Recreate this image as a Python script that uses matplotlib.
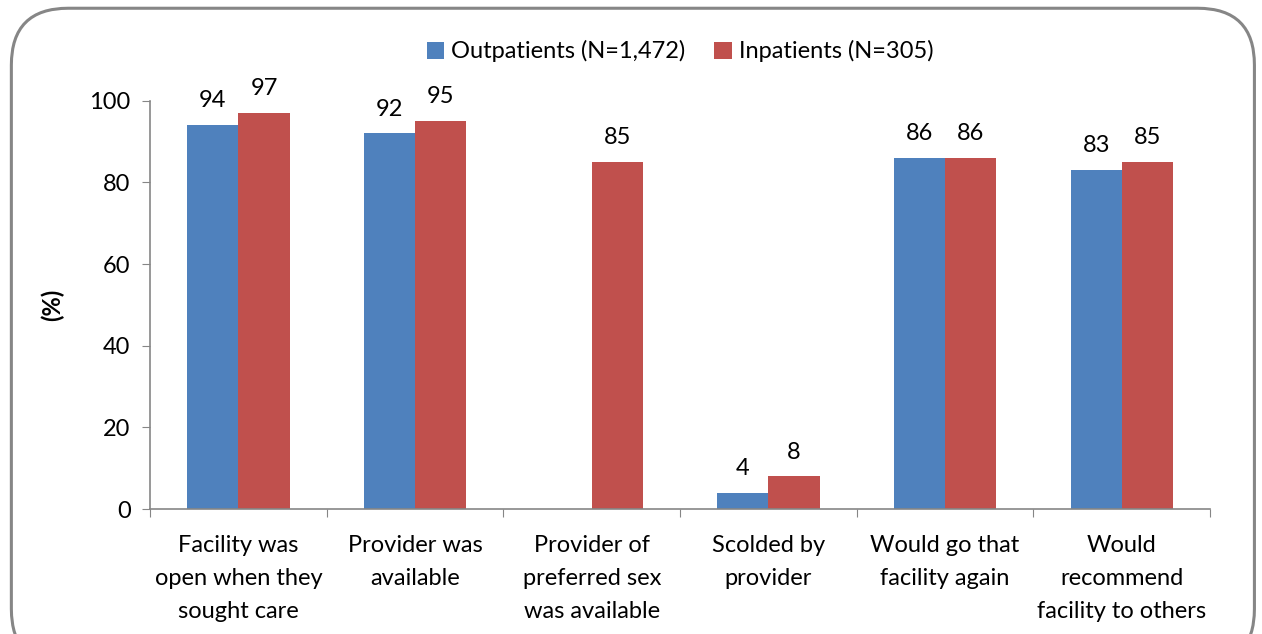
import numpy as np
import matplotlib
matplotlib.use("Agg")
import matplotlib.pyplot as plt
from matplotlib.patches import FancyBboxPatch

plt.rcParams['font.family'] = ['Lato', 'DejaVu Sans']

categories = ["Facility was\nopen when they\nsought care", "Provider was\navailable",
              "Provider of\npreferred sex\nwas available", "Scolded by\nprovider",
              "Would go that\nfacility again", "Would\nrecommend\nfacility to others"]
outpatients = [94, 92, None, 4, 86, 83]
inpatients = [97, 95, 85, 8, 86, 85]
series_names = ["Outpatients (N=1,472)", "Inpatients (N=305)"]

blue = "#4F81BD"
red = "#C0504D"
grey = "#868686"
fs = 17

fig = plt.figure(figsize=(12.62, 6.34), dpi=100)
ax = fig.add_axes([0.1189, 0.197, 0.84, 0.644])

x = np.arange(len(categories))
w = 0.29
out_vals = [v if v is not None else 0 for v in outpatients]
b1 = ax.bar(x - w/2, out_vals, w, color=blue, label=series_names[0])
b2 = ax.bar(x + w/2, inpatients, w, color=red, label=series_names[1])

# value labels; no outpatient bar for the third category
for i, v in enumerate(outpatients):
    if v is None:
        b1[i].set_visible(False)
        continue
    ax.annotate(str(v), (x[i] - w/2, v), xytext=(0, 10), textcoords="offset points",
                ha="center", va="bottom", fontsize=fs)
for i, v in enumerate(inpatients):
    ax.annotate(str(v), (x[i] + w/2, v), xytext=(0, 10), textcoords="offset points",
                ha="center", va="bottom", fontsize=fs)

ax.set_xlim(-0.5, len(categories) - 0.5)
ax.set_ylim(0, 100)
ax.set_yticks([0, 20, 40, 60, 80, 100])
ax.tick_params(axis='y', labelsize=fs, length=6, color=grey, direction='out', pad=8)
ax.set_xticks(np.arange(len(categories) + 1) - 0.5)
ax.set_xticklabels([])
ax.tick_params(axis='x', length=6, color=grey, direction='out')
ax.set_xticks(x, minor=True)
ax.set_xticklabels(categories, minor=True, fontsize=fs, linespacing=1.68)
ax.tick_params(axis='x', which='minor', length=0, pad=19)

for s in ['top', 'right']:
    ax.spines[s].set_visible(False)
for s in ['left', 'bottom']:
    ax.spines[s].set_color(grey)
    ax.spines[s].set_linewidth(1.2)

ax.set_ylabel("(%)", fontsize=fs, fontweight='bold', labelpad=18)

ax.legend(loc='upper center', bbox_to_anchor=(0.5, 1.2), ncol=2, frameon=False,
          fontsize=fs, handlelength=0.75, handleheight=0.75, handletextpad=0.3,
          columnspacing=1.2)

# rounded outer frame
frame = FancyBboxPatch((0.009, -0.05), 0.985, 1.037, boxstyle="round,pad=0,rounding_size=0.045",
                       transform=fig.transFigure, fill=False, edgecolor=grey, linewidth=2.2,
                       mutation_aspect=1262/634)
fig.patches.append(frame)

fig.savefig("out.png", dpi=100)
